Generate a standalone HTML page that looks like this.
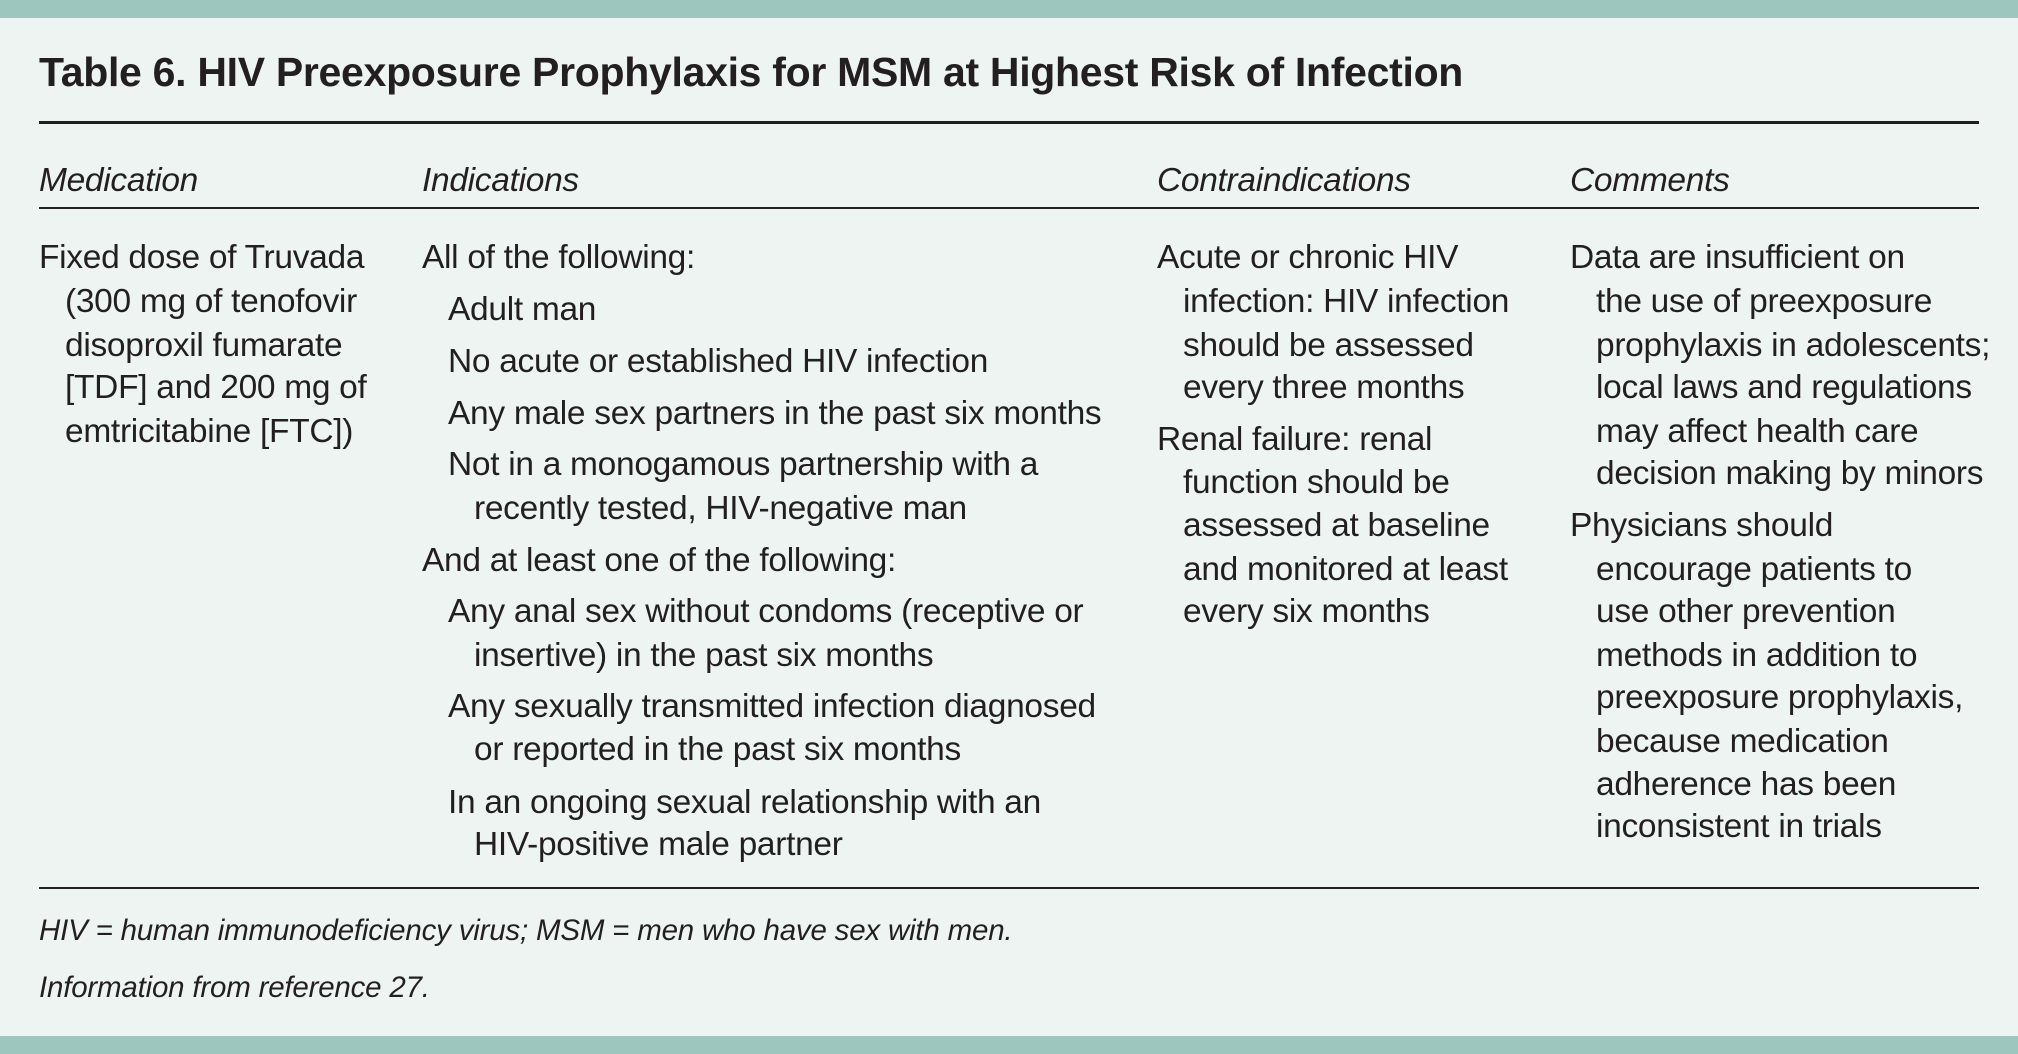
<!DOCTYPE html>
<html><head><meta charset="utf-8"><style>
html,body{margin:0;padding:0}
body{width:2018px;height:1054px;background:#eef4f2;position:relative;overflow:hidden;font-family:"Liberation Sans",sans-serif;color:#231f20}
.band{position:absolute;left:0;width:2018px;background:#9cc6be}
.l{position:absolute;white-space:nowrap;font-size:33.5px;line-height:42px;height:42px;letter-spacing:-0.3px;margin-top:2px}
.h{font-style:italic}
.rule{position:absolute;left:39px;width:1940px;background:#231f20}
.f{position:absolute;white-space:nowrap;font-style:italic;font-size:29.5px;line-height:34px;left:39px;letter-spacing:-0.2px;margin-top:1px}
</style></head><body>
<div class="band" style="top:0;height:18px"></div>
<div class="band" style="top:1036px;height:18px"></div>
<div style="position:absolute;left:39px;top:49px;font-size:41px;font-weight:bold;white-space:nowrap;line-height:46px;letter-spacing:-0.3px">Table 6. HIV Preexposure Prophylaxis for MSM at Highest Risk of Infection</div>
<div class="rule" style="top:121px;height:3px"></div>
<div class="l h" style="left:39px;top:158px">Medication</div>
<div class="l h" style="left:422px;top:158px">Indications</div>
<div class="l h" style="left:1157px;top:158px">Contraindications</div>
<div class="l h" style="left:1570px;top:158px">Comments</div>
<div class="rule" style="top:207px;height:2px"></div>

<div class="l" style="left:39px;top:235px">Fixed dose of Truvada</div>
<div class="l" style="left:65px;top:279px">(300 mg of tenofovir</div>
<div class="l" style="left:65px;top:323px">disoproxil fumarate</div>
<div class="l" style="left:65px;top:365px">[TDF] and 200 mg of</div>
<div class="l" style="left:65px;top:409px">emtricitabine [FTC])</div>

<div class="l" style="left:422px;top:235px">All of the following:</div>
<div class="l" style="left:448px;top:287px">Adult man</div>
<div class="l" style="left:448px;top:339px">No acute or established HIV infection</div>
<div class="l" style="left:448px;top:391px">Any male sex partners in the past six months</div>
<div class="l" style="left:448px;top:442px">Not in a monogamous partnership with a</div>
<div class="l" style="left:474px;top:486px">recently tested, HIV-negative man</div>
<div class="l" style="left:422px;top:538px">And at least one of the following:</div>
<div class="l" style="left:448px;top:589px">Any anal sex without condoms (receptive or</div>
<div class="l" style="left:474px;top:633px">insertive) in the past six months</div>
<div class="l" style="left:448px;top:684px">Any sexually transmitted infection diagnosed</div>
<div class="l" style="left:474px;top:727px">or reported in the past six months</div>
<div class="l" style="left:448px;top:780px">In an ongoing sexual relationship with an</div>
<div class="l" style="left:474px;top:822px">HIV-positive male partner</div>

<div class="l" style="left:1157px;top:235px">Acute or chronic HIV</div>
<div class="l" style="left:1183px;top:279px">infection: HIV infection</div>
<div class="l" style="left:1183px;top:323px">should be assessed</div>
<div class="l" style="left:1183px;top:365px">every three months</div>
<div class="l" style="left:1157px;top:417px">Renal failure: renal</div>
<div class="l" style="left:1183px;top:460px">function should be</div>
<div class="l" style="left:1183px;top:503px">assessed at baseline</div>
<div class="l" style="left:1183px;top:547px">and monitored at least</div>
<div class="l" style="left:1183px;top:589px">every six months</div>

<div class="l" style="left:1570px;top:235px">Data are insufficient on</div>
<div class="l" style="left:1596px;top:279px">the use of preexposure</div>
<div class="l" style="left:1596px;top:323px">prophylaxis in adolescents;</div>
<div class="l" style="left:1596px;top:365px">local laws and regulations</div>
<div class="l" style="left:1596px;top:409px">may affect health care</div>
<div class="l" style="left:1596px;top:451px">decision making by minors</div>
<div class="l" style="left:1570px;top:503px">Physicians should</div>
<div class="l" style="left:1596px;top:547px">encourage patients to</div>
<div class="l" style="left:1596px;top:589px">use other prevention</div>
<div class="l" style="left:1596px;top:633px">methods in addition to</div>
<div class="l" style="left:1596px;top:675px">preexposure prophylaxis,</div>
<div class="l" style="left:1596px;top:719px">because medication</div>
<div class="l" style="left:1596px;top:762px">adherence has been</div>
<div class="l" style="left:1596px;top:804px">inconsistent in trials</div>

<div class="rule" style="top:887px;height:2px"></div>
<div class="f" style="top:913px">HIV = human immunodeficiency virus; MSM = men who have sex with men.</div>
<div class="f" style="top:970px">Information from reference 27.</div>
</body></html>
